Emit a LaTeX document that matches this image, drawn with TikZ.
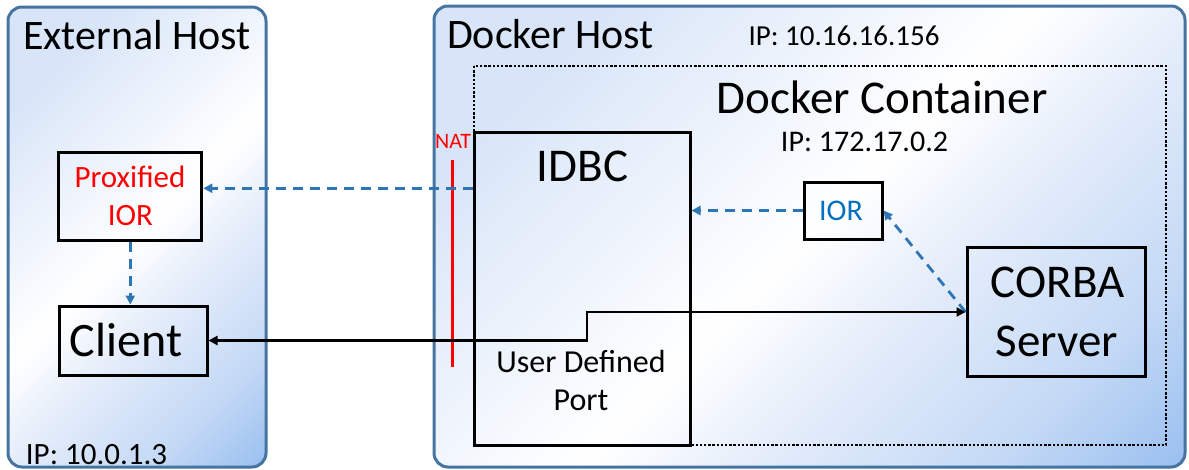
\documentclass[tikz,border=0pt]{standalone}
\usepackage{fontspec}
\setmainfont{Carlito}
\usetikzlibrary{arrows.meta}
\definecolor{hostedge}{RGB}{70,116,160}
\definecolor{hosttl}{RGB}{216,229,248}
\definecolor{hostlite}{RGB}{226,235,250}
\definecolor{hostmid}{RGB}{196,217,245}
\definecolor{hostbr}{RGB}{155,192,240}
\definecolor{dashblue}{RGB}{46,117,182}
\definecolor{iorblue}{RGB}{0,112,192}
\definecolor{natred}{RGB}{255,0,0}
\pgfdeclareverticalshading{hostshade}{100bp}{color(0bp)=(hostbr); color(15bp)=(hostbr); color(26bp)=(hostmid); color(39bp)=(hostlite); color(50bp)=(white); color(75bp)=(hosttl); color(100bp)=(hosttl)}
\newcommand\myfs[1]{\fontsize{#1}{#1}\selectfont}
\begin{document}
\begin{tikzpicture}[x=1pt,y=-1pt,
  host/.style={draw=hostedge, line width=3pt, rounded corners=14pt,
    shade, shading=hostshade, shading angle=45},
  box/.style={draw=black, line width=3pt, rectangle, inner sep=0pt},
  lbl/.style={anchor=base, inner sep=0pt},
  dasharrow/.style={draw=dashblue, line width=2.8pt, dash pattern=on 10pt off 7pt,
    -{Triangle[length=9pt,width=9pt]}},
  solidarrow/.style={draw=black, line width=2.6pt,
    {Triangle[length=9pt,width=9pt]}-{Triangle[length=9pt,width=9pt]}},
]
\useasboundingbox (0,0) rectangle (1189,469);
% hosts
\path[host] (8,7) rectangle (266,467);
\path[host] (434,6) rectangle (1185,467);
% docker container
\draw[line width=2.6pt, dash pattern=on 2.4pt off 1.8pt] (474,66) rectangle (1166,445);
% boxes
\node[box, minimum width=143pt, minimum height=88pt] (prox) at (130.3,196.3) {};
\node[box, minimum width=148pt, minimum height=69pt] (client) at (133,340.5) {};
\node[box, minimum width=216pt, minimum height=313pt] (idbc) at (582,289) {};
\node[box, minimum width=78pt, minimum height=57pt] (ior) at (843,210.5) {};
\node[box, minimum width=178pt, minimum height=129pt] (corba) at (1056,312) {};
% labels
\node[lbl] (exthost) at (137,49.3) {\myfs{42}External Host};
\node[lbl] (dockhost) at (550.5,48) {\myfs{42}Docker Host};
\node[lbl] (dockip) at (844,45.7) {\myfs{29}IP: 10.16.16.156};
\node[lbl] (contlbl) at (882,113) {\myfs{47}Docker Container};
\node[lbl] (contip) at (864.5,151.7) {\myfs{30}IP: 172.17.0.2};
\node[lbl] (idbclbl) at (582.5,181.7) {\myfs{47}IDBC};
\node[lbl] (udp1) at (581,372.3) {\myfs{32}User Defined};
\node[lbl] (udp2) at (581,410.7) {\myfs{32}Port};
\node[lbl] (corba1) at (1057.5,297.7) {\myfs{47}CORBA};
\node[lbl] (corba2) at (1057,356.3) {\myfs{47}Server};
\node[lbl, text=iorblue] (iorlbl) at (841,220) {\myfs{30}IOR};
\node[lbl, text=natred] (prox1) at (130,187.3) {\myfs{31}Proxified};
\node[lbl, text=natred] (prox2) at (130.4,225.7) {\myfs{31}IOR};
\node[lbl] (clientlbl) at (126,356.7) {\myfs{48}Client};
\node[lbl] (extip) at (96.5,464) {\myfs{31}IP: 10.0.1.3};
\node[lbl, text=natred] (natlbl) at (453,148.3) {\myfs{22}NAT};
% NAT line
\coordinate (nattop) at (452,160);
\coordinate (natbot) at (452,367);
\draw[natred, line width=3pt] (nattop) -- (natbot);
% connectors
\draw[dasharrow] ([yshift=8pt]prox.east -| idbc.west) -- ([yshift=8pt]prox.east);
\draw[dasharrow] (prox.south) -- (prox.south |- client.north);
\draw[dasharrow] (ior.west) -- (ior.west -| idbc.east);
\draw[dasharrow] (corba.west) -- (ior.east);
\coordinate (stepx) at (587,0);
\draw[solidarrow] (client.east) -- (client.east -| stepx) -- (stepx |- corba.west) -- (corba.west);
\end{tikzpicture}
\end{document}
